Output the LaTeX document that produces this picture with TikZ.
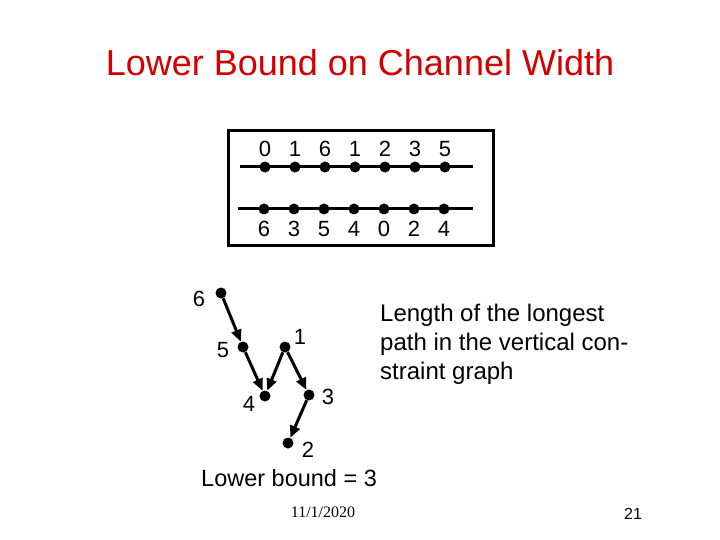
\documentclass[tikz,border=0pt]{standalone}
\usepackage{fontspec}
\setmainfont{Liberation Sans}
\newfontfamily\timesfont{Liberation Serif}
\usetikzlibrary{arrows.meta}
\definecolor{titlered}{RGB}{210,0,0}
\begin{document}
\begin{tikzpicture}[x=1pt,y=-1pt,
  dotnode/.style={circle,fill=black,inner sep=0pt,minimum size=11pt},
  lab/.style={font=\fontsize{22}{26}\selectfont,inner sep=0pt},
  bodytext/.style={font=\fontsize{24}{29}\selectfont,inner sep=0pt},
  trackline/.style={line width=3pt},
  edgearrow/.style={line width=3pt,-{Triangle[length=12pt,width=10pt]}},
]
\useasboundingbox (0,0) rectangle (720,540);
% title
\node[anchor=base,text=titlered,font=\fontsize{36}{43}\selectfont,inner sep=0pt] (title) at (360,75.5) {Lower Bound on Channel Width};
% channel box
\node[draw,line width=3pt,minimum width=265pt,minimum height=114pt,inner sep=0pt] (box) at (360.5,188) {};
\coordinate (tl) at (240,167);
\coordinate (tr) at (473,167);
\coordinate (bl) at (238,209);
\coordinate (br) at (473,209);
\draw[trackline] (tl) -- (tr);
\draw[trackline] (bl) -- (br);
\foreach \i/\t/\b in {0/0/6,1/1/3,2/6/5,3/1/4,4/2/0,5/3/2,6/5/4}{
  \node[dotnode] (t\i) at (265+30*\i,167) {};
  \node[dotnode] (b\i) at (264+30*\i,209) {};
  \node[lab] (tl\i) at (265+30*\i,149) {\t};
  \node[lab] (bl\i) at (264+30*\i,229) {\b};
}
% vertical constraint graph
\node[dotnode] (g6) at (221,293) {};
\node[dotnode] (g5) at (243,347) {};
\node[dotnode] (g1) at (285,347) {};
\node[dotnode] (g4) at (265,396) {};
\node[dotnode] (g3) at (309,395) {};
\node[dotnode] (g2) at (288,443) {};
\node[lab] (l6) at (199,299) {6};
\node[lab] (l5) at (223,350) {5};
\node[lab] (l1) at (300,337) {1};
\node[lab] (l4) at (249,404) {4};
\node[lab] (l3) at (328,397) {3};
\node[lab] (l2) at (308,450) {2};
\draw[edgearrow] (g6) -- (g5);
\draw[edgearrow] (g5) -- (g4);
\draw[edgearrow] (g1) -- (g4);
\draw[edgearrow] (g1) -- (g3);
\draw[edgearrow] (g3) -- (g2);
% texts
\node[bodytext,anchor=base west] (note1) at (380,321) {Length of the longest};
\node[bodytext,anchor=base west] (note2) at (380,350) {path in the vertical con-};
\node[bodytext,anchor=base west] (note3) at (380,379) {straint graph};
\node[anchor=base west,font=\fontsize{23.5}{28}\selectfont,inner sep=0pt] (lb) at (201,486) {Lower bound = 3};
\node[anchor=base,font=\timesfont\fontsize{16}{19}\selectfont,inner sep=0pt] (date) at (323,517.5) {11/1/2020};
\node[anchor=base,font=\fontsize{16}{19}\selectfont,inner sep=0pt] (pg) at (633,519) {21};
\end{tikzpicture}
\end{document}
